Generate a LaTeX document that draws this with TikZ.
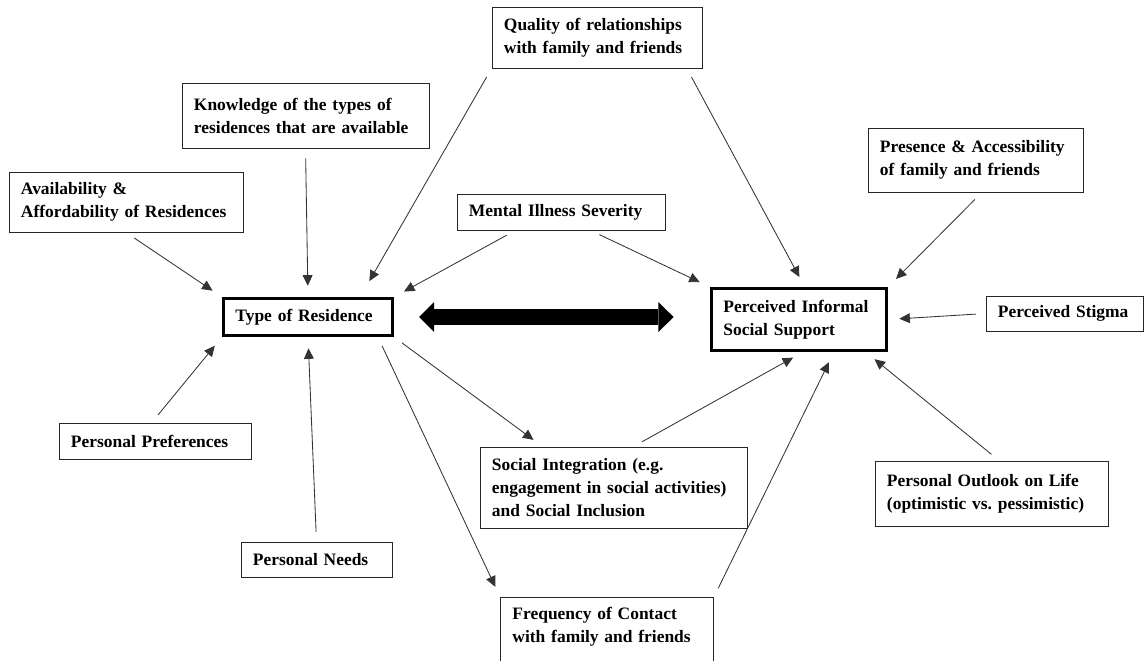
\documentclass[tikz,border=0pt]{standalone}
\usepackage{fontspec}
\setmainfont{Liberation Serif}
\usetikzlibrary{arrows.meta}
\tikzset{every node/.style={font=\bfseries\fontsize{12.4}{16.4}\selectfont, align=left, inner xsep=0.3cm},
  box/.style={draw=black!85, line width=0.6pt},
  main/.style={draw=black, line width=2.2pt},
  arr/.style={-{Triangle[length=7.5pt,width=7pt]}, draw=black!80, line width=0.6pt, shorten <=7pt, shorten >=8pt},
  link/.style={{Triangle[length=10.7pt,width=21.3pt,line width=0pt]}-{Triangle[length=10.7pt,width=21.3pt,line width=0pt]}, line width=10.7pt}}

\begin{document}
\begin{tikzpicture}[x=0.025cm, y=-0.025cm]
  \useasboundingbox (0,0) rectangle (1144,660);
  \node[box, text width=4.65cm, minimum height=1.525cm] (qual) at (597,37.5) {Quality of relationships\\with family and friends};
  \node[box, text width=5.575cm, minimum height=1.625cm] (know) at (305.5,115.5) {Knowledge of the types of\\residences that are available};
  \node[box, text width=5.25cm, minimum height=1.5cm] (avail) at (126,202) {Availability \&\\Affordability of Residences};
  \node[box, text width=4.6cm, minimum height=0.9cm] (mental) at (561,212) {Mental Illness Severity};
  \node[box, text width=4.775cm, minimum height=1.6cm] (pres) at (975.5,160) {Presence \& Accessibility\\of family and friends};
  \node[box, text width=3.325cm, minimum height=0.875cm] (stig) at (1064.5,313.5) {Perceived Stigma};
  \node[main, text width=3.625cm, minimum height=0.925cm] (type) at (308,317) {Type of Residence};
  \node[main, text width=3.775cm, minimum height=1.55cm] (pis) at (799,319.5) {Perceived Informal\\Social Support};
  \node[box, text width=4.2cm, minimum height=0.9cm] (pref) at (155,441) {Personal Preferences};
  \node[box, text width=3.175cm, minimum height=0.875cm] (need) at (316.5,559.5) {Personal Needs};
  \node[box, text width=6.075cm, minimum height=2.025cm] (soc) at (613.5,487.5) {Social Integration (e.g.\\engagement in social activities)\\and Social Inclusion};
  \node[box, text width=4.725cm, anchor=north, inner ysep=4pt, text height=12pt, text depth=39pt] (freq) at (607,597) {Frequency of Contact\\with family and friends};
  \node[box, text width=5.225cm, minimum height=1.625cm] (outl) at (991.5,493.5) {Personal Outlook on Life\\(optimistic vs.\ pessimistic)};

  \draw[arr] (avail.south) -- (type.north west);
  \draw[arr] (know.south) -- (type.north);
  \draw[arr, shorten >=13pt] (qual.south west) -- (type.21);
  \draw[arr] (mental.202) -- (type.north east);
  \draw[arr] (mental.328) -- (pis.north west);
  \draw[arr] (qual.341) -- (pis.80);
  \draw[arr] (pres.281) -- (pis.north east);
  \draw[arr] (stig.west) -- (pis.east);
  \draw[arr] (outl.77) -- (pis.334);
  \draw[arr] (soc.64) -- (pis.277);
  \draw[arr] (freq.north east) -- (pis.317);
  \draw[arr] (type.south east) -- (soc.150);
  \draw[arr] (type.344) -- (freq.north west);
  \draw[arr] (pref.100) -- (type.south west);
  \draw[arr] (need.north) -- (type.south);
  \draw[link, shorten <=0.625cm, shorten >=0.91cm] (type.east) -- (type.east -| pis.west);
\end{tikzpicture}
\end{document}
